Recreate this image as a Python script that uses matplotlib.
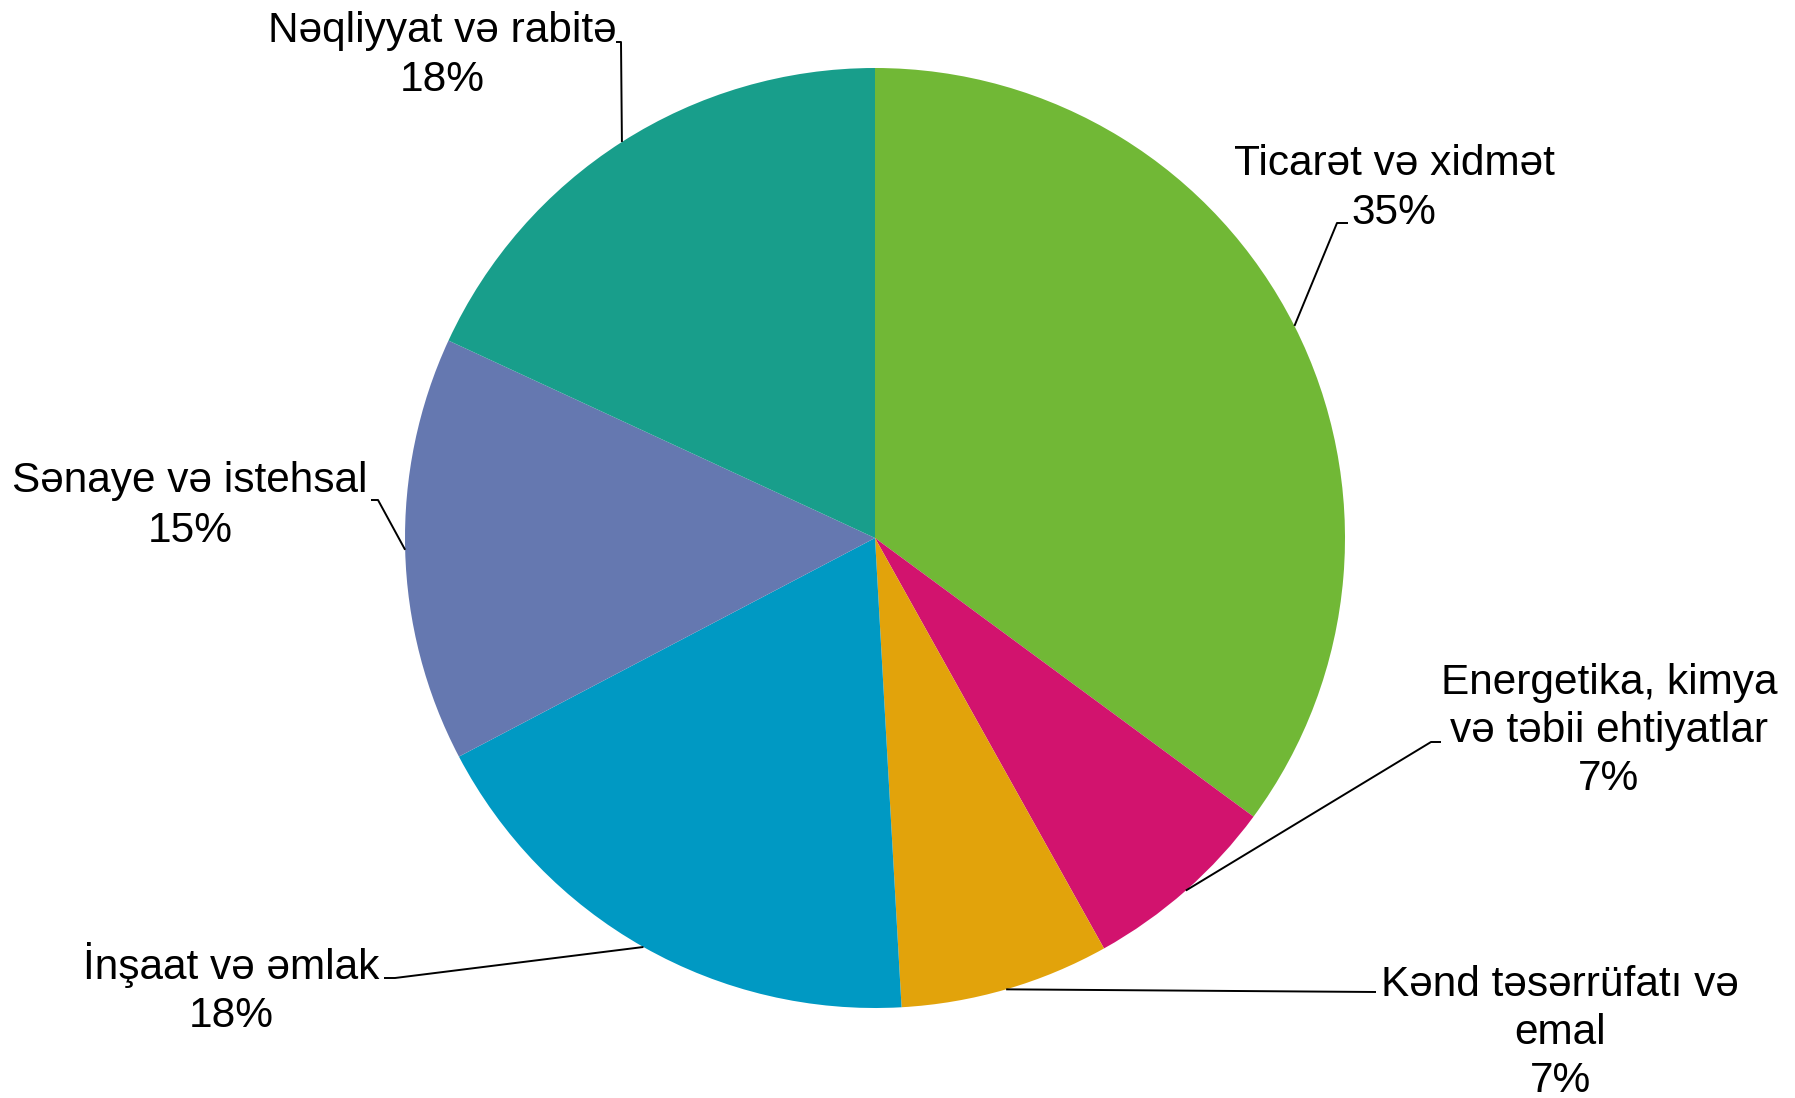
import matplotlib
matplotlib.use("Agg")
import matplotlib.pyplot as plt
import numpy as np

# ---- data ----
categories = [
    "Ticarət və xidmət",
    "Energetika, kimya\nvə təbii ehtiyatlar",
    "Kənd təsərrüfatı və\nemal",
    "İnşaat və əmlak",
    "Sənaye və istehsal",
    "Nəqliyyat və rabitə",
]
values = [35.1, 6.8, 7.2, 18.2, 14.6, 18.1]
colors = ["#71B836", "#D2136E", "#E2A30B", "#0099C3", "#6578B0", "#189E8B"]

# ---- layout (pixel coordinates, y measured from top) ----
W, H = 1795, 1098
CX, CY, R = 875, 538, 470
# label: centre x, first baseline y ; leader: elbow point, end point
label_pos = [(1394, 175), (1609, 694), (1560, 996), (231, 979), (190, 492), (442, 42)]
line_sp = [49, 48, 48, 48, 50, 49]
elbows = [(1337, 223), (1431, 742), (1376, 992), (395, 978), (378, 500), (621, 42)]
ends = [(1348, 223), (1441, 742), (1376, 992), (384, 978), (371, 500), (616, 42)]
FS = 30.5

plt.rcParams["font.family"] = ["Liberation Sans", "DejaVu Sans"]
fig = plt.figure(figsize=(W / 100, H / 100), dpi=100)
ax = fig.add_axes([0, 0, 1, 1])

def Y(y):
    return H - y

wedges, _ = ax.pie(values, colors=colors, startangle=90, counterclock=False,
                   center=(CX, Y(CY)), radius=R,
                   wedgeprops=dict(linewidth=0))
ax.set_xlim(0, W)
ax.set_ylim(0, H)
ax.set_aspect("equal")
ax.axis("off")

for w, cat, v, (lx, ly), sp, (ex, ey), (tx, ty) in zip(
        wedges, categories, values, label_pos, line_sp, elbows, ends):
    th = np.deg2rad((w.theta1 + w.theta2) / 2)
    sx = CX + R * np.cos(th)
    sy = Y(CY) + R * np.sin(th)
    ax.plot([sx, ex, tx], [sy, Y(ey), Y(ty)], color="black", lw=1.4,
            solid_capstyle="butt", zorder=3)
    lines = cat.split("\n") + [f"{v:.0f}%"]
    for i, t in enumerate(lines):
        ax.text(lx, Y(ly + i * sp), t, ha="center", va="baseline",
                fontsize=FS, color="black")

fig.savefig("out.png", dpi=100, facecolor="white")
